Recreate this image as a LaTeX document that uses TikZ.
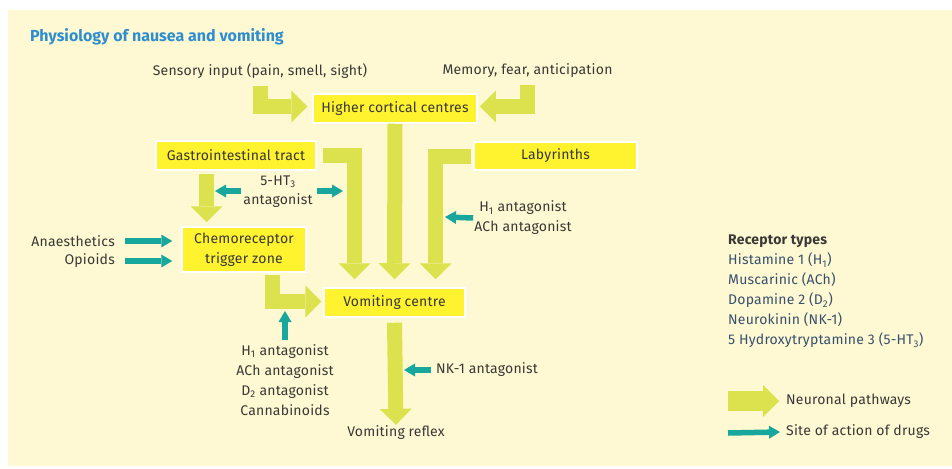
\documentclass[tikz,border=0pt]{standalone}
\usepackage{fontspec}
\setmainfont{Fira Sans}[LetterSpace=1.5]
\newfontfamily\titlefont{Fira Sans}
\usetikzlibrary{arrows.meta,calc}
\definecolor{bgc}{HTML}{FEF9D2}
\definecolor{boxc}{HTML}{FFF22E}
\definecolor{neurc}{HTML}{DCE14E}
\definecolor{drugc}{HTML}{18A79C}
\definecolor{titlec}{HTML}{2F8ECF}
\definecolor{txtc}{HTML}{383836}
\definecolor{legc}{HTML}{37506E}
\begin{document}
\begin{tikzpicture}[x=1pt,y=-1pt,
  font=\fontsize{14}{15}\selectfont, text=txtc,
  box/.style={fill=boxc, draw=white, line width=1.5pt, inner sep=0pt, align=center},
  lbl/.style={inner sep=0pt, align=center},
  neur/.style={draw=neurc, line width=15pt, line join=miter,
    -{Triangle[width=32pt,length=16pt,line width=0pt]}},
  neurleg/.style={draw=neurc, line width=20pt,
    -{Triangle[width=32pt,length=16pt,line width=0pt]}},
  drug/.style={draw=drugc, line width=5.5pt,
    -{Triangle[width=13pt,length=11pt,line width=0pt]}}
]
\useasboundingbox (0,0) rectangle (952,468);
\fill[white] (0,0) rectangle (952,468);
\fill[bgc] (8,10) rectangle (952,466);

% title
\node[lbl, anchor=west, text=titlec, font=\titlefont\fontsize{16}{18}\selectfont\bfseries] (title) at (30,37) {Physiology of nausea and vomiting};

% boxes
\node[box, minimum width=164pt, minimum height=29pt] (hcc) at (395,108.5) {Higher cortical centres};
\node[box, minimum width=160pt, minimum height=29pt] (gi) at (236,155.5) {Gastrointestinal tract};
\node[box, minimum width=163pt, minimum height=28pt] (lab) at (555.5,156) {Labyrinths};
\node[box, minimum width=124pt, minimum height=45pt, font=\fontsize{14}{20}\selectfont] (ctz) at (244,249.5) {Chemoreceptor\\trigger zone};
\node[box, minimum width=141pt, minimum height=29pt] (vc) at (394.5,302.5) {Vomiting centre};

% labels
\node[lbl] (sens) at (260,71) {Sensory input (pain, smell, sight)};
\node[lbl] (mem) at (527.5,71) {Memory, fear, anticipation};
\node[lbl, font=\fontsize{14}{19}\selectfont] (ht) at (278,192) {5-HT\textsubscript{3}\\antagonist};
\node[lbl, font=\fontsize{14}{20}\selectfont] (hl) at (523,218) {H\textsubscript{1} antagonist\\ACh antagonist};
\node[lbl, anchor=east] (an) at (115,241) {Anaesthetics};
\node[lbl, anchor=east] (op) at (115,261) {Opioids};
\node[lbl, font=\fontsize{14}{20}\selectfont] (bl) at (285,380) {H\textsubscript{1} antagonist\\ACh antagonist\\D\textsubscript{2} antagonist\\Cannabinoids};
\node[lbl, anchor=west] (nk) at (436,370) {NK-1 antagonist};
\node[lbl] (refl) at (396,433) {Vomiting reflex};

% legend
\node[lbl, anchor=north west, align=left, font=\fontsize{14}{20}\selectfont] (leg) at (728,235)
  {\textbf{Receptor types}\\
   \textcolor{legc}{Histamine 1 (H\textsubscript{1})}\\
   \textcolor{legc}{Muscarinic (ACh)}\\
   \textcolor{legc}{Dopamine 2 (D\textsubscript{2})}\\
   \textcolor{legc}{Neurokinin (NK-1)}\\
   \textcolor{legc}{5 Hydroxytryptamine 3 (5-HT\textsubscript{3})}};
\node[lbl, anchor=west] (np) at (786,401) {Neuronal pathways};
\node[lbl, anchor=west] (sd) at (786,432) {Site of action of drugs};

% coordinates for free ends
\coordinate (htLtip) at (215,191);
\coordinate (htRtip) at (343,191);
\coordinate (hlTip) at (445,217);
\coordinate (upTip) at (285,311);
\coordinate (nkTip) at (404,370);
\coordinate (legN) at (728,401);
\coordinate (legD) at (728,433);

% neuronal pathways
\draw[neur] ([yshift=-7pt]sens.south) |- ([xshift=-5pt,yshift=2pt]hcc.west);
\draw[neur] ([yshift=-7pt]mem.south) |- ([xshift=2pt,yshift=2pt]hcc.east);
\draw[neur] (hcc.south) -- ([yshift=8pt]vc.north);
\draw[neur] ([xshift=6pt]gi.east) -| ([xshift=-40pt,yshift=8pt]vc.north);
\draw[neur] ([xshift=-2pt]lab.west) -| ([xshift=41pt,yshift=8pt]vc.north);
\draw[neur] ([xshift=-29.5pt,yshift=-3pt]gi.south) -- ([xshift=-37.5pt,yshift=4pt]ctz.north);
\draw[neur] ([xshift=28.5pt,yshift=-2pt]ctz.south) |- ([xshift=-2pt,yshift=1pt]vc.west);
\draw[neur] ([yshift=-5pt]vc.south) -- ([yshift=1pt]refl.north);
\draw[neurleg] (legN) -- ([xshift=-7pt]np.west);

% drug sites
\draw[drug] (ht.west |- htLtip) ++(-2pt,0) -- (htLtip);
\draw[drug] ([xshift=4pt]ht.east |- htRtip) -- (htRtip);
\draw[drug] ([xshift=-1pt]hl.west) -- (hlTip);
\draw[drug] ([xshift=10pt]an.east) -- ($(ctz.west |- an.east)+(-9,0)$);
\draw[drug] ([xshift=10pt]op.east) -- ($(ctz.west |- op.east)+(-9,0)$);
\draw[drug] ([yshift=4pt]bl.north) -- (upTip);
\draw[drug] ([xshift=-5pt]nk.west) -- (nkTip);
\draw[drug] (legD) -- ([xshift=-6pt]sd.west);
\end{tikzpicture}
\end{document}
